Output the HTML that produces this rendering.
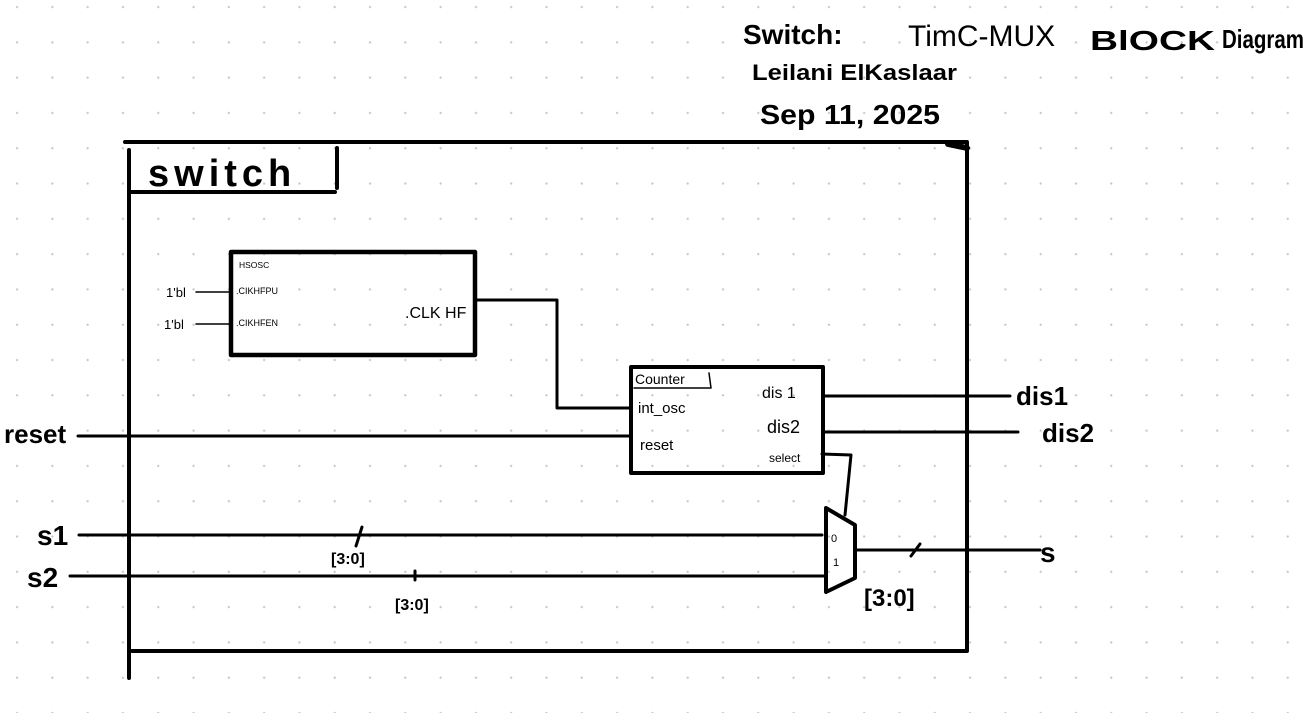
<!DOCTYPE html>
<html><head><meta charset="utf-8"><style>
html,body{margin:0;padding:0;background:#fff;}
body{width:1306px;height:713px;overflow:hidden;
background-image:radial-gradient(circle,#c4c4c4 0.9px,transparent 1.3px);
background-size:35.3px 35.3px;background-position:-0.6px -10.6px;}
svg{position:absolute;left:0;top:0;}
text{font-family:"Liberation Sans",sans-serif;fill:#000;}
</style></head><body>
<svg width="1306" height="713" viewBox="0 0 1306 713">
<g stroke="#000" fill="none" stroke-linecap="round" stroke-linejoin="round">
<!-- outer box -->
<path d="M125 142 L967 142 M967 142 L967 650 M132 651 L967 651 M129 150 L129 678" stroke-width="4"/>
<path d="M948 144 L967 148" stroke-width="6"/>
<!-- switch label box -->
<path d="M131 192 L335 192 M337 148 L337 188" stroke-width="4"/>
<!-- HSOSC -->
<rect x="231" y="252" width="244" height="103" stroke-width="4.5"/>
<path d="M196 292 L231 292 M196 324 L231 324" stroke-width="1.5"/>
<path d="M475 300 L557 300 L557 408 L630 408" stroke-width="3"/>
<!-- counter -->
<rect x="631" y="367" width="192" height="106" stroke-width="4"/>
<path d="M634 388 L711 388 L709 373" stroke-width="1.5"/>
<path d="M78 436 L630 436" stroke-width="3"/>
<path d="M823 396 L1010 396 M823 432 L1018 432" stroke-width="3"/>
<path d="M822 454 L851 455 L845 515" stroke-width="3"/>
<!-- mux -->
<path d="M826 508 L855 525 L855 578 L826 592 Z" stroke-width="4"/>
<path d="M79 535 L822 535 M70 576 L826 576" stroke-width="3"/>
<path d="M855 550 L1040 550" stroke-width="3"/>
<path d="M356 546 L362 527 M415 571 L415 580 M911 556 L920 544" stroke-width="3"/>
</g>
<text x="148" y="186" font-size="38" letter-spacing="5" font-weight="bold">switch</text>
<text x="239" y="268" font-size="8.5">HSOSC</text>
<text x="236" y="294" font-size="9">.CIKHFPU</text>
<text x="236" y="326" font-size="9">.CIKHFEN</text>
<text x="166" y="297" font-size="13">1'bl</text>
<text x="164" y="329" font-size="13">1'bl</text>
<text x="405" y="318" font-size="16">.CLK HF</text>
<text x="635" y="384" font-size="14">Counter</text>
<text x="638" y="413" font-size="15">int_osc</text>
<text x="640" y="450" font-size="15">reset</text>
<text x="762" y="398" font-size="16">dis 1</text>
<text x="767" y="433" font-size="18">dis2</text>
<text x="769" y="462" font-size="12">select</text>
<text x="831" y="542" font-size="11">0</text>
<text x="833" y="566" font-size="11">1</text>
<text x="4" y="443" font-size="26" font-weight="bold">reset</text>
<text x="37" y="545" font-size="28" font-weight="bold">s1</text>
<text x="27" y="587" font-size="28" font-weight="bold">s2</text>
<text x="1016" y="405" font-size="26" font-weight="bold">dis1</text>
<text x="1042" y="442" font-size="26" font-weight="bold">dis2</text>
<text x="1040" y="562" font-size="28" font-weight="bold">s</text>
<text x="331" y="564" font-size="16" font-weight="bold" font-family="Liberation Mono">[3:0]</text>
<text x="395" y="610" font-size="16" font-weight="bold" font-family="Liberation Mono">[3:0]</text>
<text x="864" y="606" font-size="24" font-weight="bold" font-family="Liberation Mono">[3:0]</text>
<text x="743" y="44" font-size="28" font-weight="bold">Switch:</text>
<text x="908" y="46" font-size="30">TimC-MUX</text>
<text x="1090" y="50" font-size="28" font-weight="bold" textLength="125" lengthAdjust="spacingAndGlyphs">BlOCK</text>
<text x="1222" y="48" font-size="26" font-weight="bold" textLength="82" lengthAdjust="spacingAndGlyphs">Diagram</text>
<text x="752" y="80" font-size="22" font-weight="bold" textLength="205" lengthAdjust="spacingAndGlyphs">Leilani  ElKaslaar</text>
<text x="760" y="124" font-size="28" font-weight="bold" textLength="180" lengthAdjust="spacingAndGlyphs">Sep 11, 2025</text>
</svg>
</body></html>
